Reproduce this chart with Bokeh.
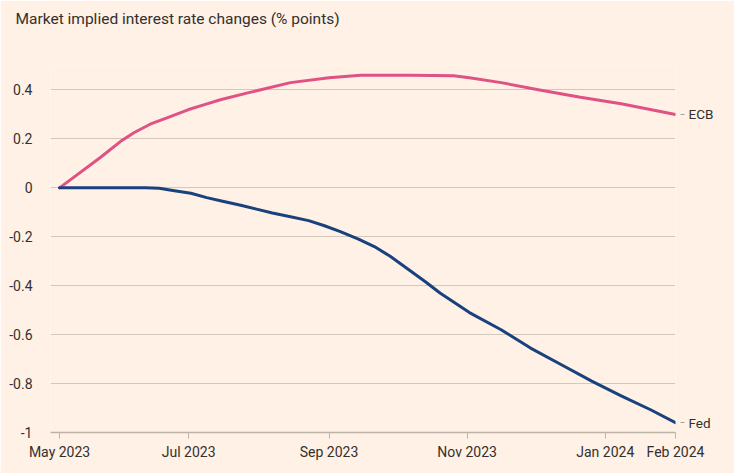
import pandas as pd
from bokeh.plotting import figure
from bokeh.models import Range1d, FixedTicker, LinearAxis, Title
from bokeh.embed import file_html
from bokeh.resources import INLINE

title_text = "Market implied interest rate changes (% points)"

# market implied change in policy rate
ecb_dates = ["2023-05-05", "2023-05-23", "2023-06-01", "2023-06-07", "2023-06-14",
             "2023-06-22", "2023-07-01", "2023-07-08", "2023-07-15", "2023-07-28",
             "2023-08-15", "2023-09-01", "2023-09-15", "2023-10-07", "2023-10-26",
             "2023-11-02", "2023-11-16", "2023-12-03", "2023-12-21", "2024-01-08",
             "2024-02-01"]
ecb_change = [0, 0.124, 0.19, 0.226, 0.26,
              0.288, 0.32, 0.34, 0.36, 0.39,
              0.43, 0.45, 0.46, 0.46, 0.458,
              0.45, 0.43, 0.40, 0.37, 0.344,
              0.30]

fed_dates = ["2023-05-05", "2023-06-12", "2023-06-18", "2023-06-24", "2023-07-02",
             "2023-07-09", "2023-07-16", "2023-07-24", "2023-07-31", "2023-08-07",
             "2023-08-15", "2023-08-23", "2023-08-30", "2023-09-06", "2023-09-14",
             "2023-09-21", "2023-09-28", "2023-10-07", "2023-10-14", "2023-10-20",
             "2023-11-02", "2023-11-16", "2023-11-29", "2023-12-12", "2023-12-26",
             "2024-01-08", "2024-01-21", "2024-02-01"]
fed_change = [0, 0, -0.002, -0.011, -0.022,
              -0.04, -0.055, -0.071, -0.087, -0.103,
              -0.118, -0.134, -0.155, -0.179, -0.21,
              -0.24, -0.28, -0.34, -0.387, -0.43,
              -0.51, -0.58, -0.655, -0.72, -0.79,
              -0.85, -0.907, -0.96]

x_tick_dates = ["2023-05-05", "2023-07-01", "2023-09-01", "2023-11-01", "2024-01-01", "2024-02-01"]
x_tick_labels = ["May 2023", "Jul 2023", "Sep 2023", "Nov 2023", "Jan 2024", "Feb 2024"]
y_ticks = [-1, -0.8, -0.6, -0.4, -0.2, 0, 0.2, 0.4]
y_tick_labels = ["-1", "-0.8", "-0.6", "-0.4", "-0.2", "0", "0.2", "0.4"]
series_names = ["ECB", "Fed"]

BG = "#fff1e5"
TEXT = "#33302e"
GRID = "#d4c8bc"
ECB_COLOR = "#df5283"
FED_COLOR = "#19417d"
FONT = "Roboto"


def to_ms(d):
    return pd.Timestamp(d).value // 10**6


p = figure(
    width=734, height=473,
    x_axis_type="datetime",
    x_range=Range1d(pd.Timestamp("2023-05-01"), pd.Timestamp("2024-02-01")),
    y_range=Range1d(-1, 0.5),
    output_backend="svg", toolbar_location=None,
    min_border_left=50, min_border_right=59,
    min_border_top=65, min_border_bottom=41,
)
p.background_fill_color = BG
p.border_fill_color = BG
p.outline_line_color = None

# tiny blank title between the frame and the real title pushes it to the top
p.add_layout(Title(text=" ", text_font_size="1px", standoff=26), "above")

p.title.text = title_text
p.title.align = "left"
p.title.offset = -35
p.title.vertical_align = "top"
p.title.standoff = 14
p.title.text_font = FONT
p.title.text_font_size = "15.5px"
p.title.text_font_style = "normal"
p.title.text_color = TEXT

# axes
x_ticks = [to_ms(d) for d in x_tick_dates]
p.xaxis.ticker = FixedTicker(ticks=x_ticks)
p.xaxis.major_label_overrides = dict(zip(x_ticks, x_tick_labels))
p.xaxis.axis_line_color = "#bfb3a8"
p.xaxis.axis_line_width = 1.5
p.xaxis.major_tick_line_color = "#bfb3a8"
p.xaxis.major_tick_out = 6
p.xaxis.major_tick_in = 0
p.xaxis.minor_tick_line_color = None
p.xaxis.major_label_standoff = 5
p.xaxis.major_label_text_font = FONT
p.xaxis.major_label_text_font_size = "14px"
p.xaxis.major_label_text_color = TEXT

p.yaxis.ticker = FixedTicker(ticks=y_ticks)
p.yaxis.major_label_overrides = dict(zip(y_ticks, y_tick_labels))
p.yaxis.axis_line_color = None
p.yaxis.major_tick_line_color = None
p.yaxis.minor_tick_line_color = None
p.yaxis.major_label_standoff = 12
p.yaxis.major_label_text_font = FONT
p.yaxis.major_label_text_font_size = "14px"
p.yaxis.major_label_text_color = TEXT

p.xgrid.grid_line_color = None
p.ygrid.grid_line_color = GRID
p.ygrid.grid_line_width = 1

# lines
p.line(x=pd.to_datetime(ecb_dates), y=ecb_change, line_color=ECB_COLOR,
       line_width=3, line_join="round", line_cap="round")
p.line(x=pd.to_datetime(fed_dates), y=fed_change, line_color=FED_COLOR,
       line_width=3, line_join="round", line_cap="round")

# end-of-line labels as a right-hand axis ticked at the last values
end_values = [ecb_change[-1], fed_change[-1]]
label_axis = LinearAxis(ticker=FixedTicker(ticks=end_values),
                        major_label_overrides=dict(zip(end_values, series_names)))
label_axis.axis_line_color = None
label_axis.minor_tick_line_color = None
label_axis.major_tick_line_color = "#a89f97"
label_axis.major_tick_in = -5
label_axis.major_tick_out = 9
label_axis.major_label_standoff = 4
label_axis.major_label_text_font = FONT
label_axis.major_label_text_font_size = "13.5px"
label_axis.major_label_text_color = TEXT
p.add_layout(label_axis, "right")

open("out.html", "w").write(file_html(p, INLINE))
